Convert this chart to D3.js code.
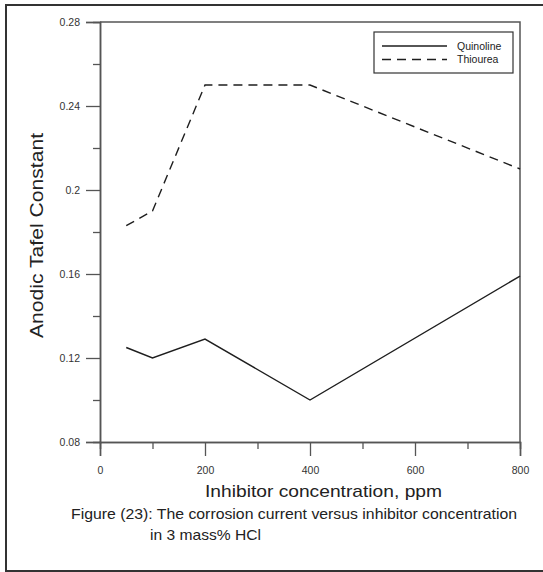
<!DOCTYPE html>
<html>
<head>
<meta charset="utf-8">
<script src="https://cdn.jsdelivr.net/npm/d3@7"></script>
<style>
	body { margin: 0; background: #fff; }
	svg { display: block; }
	text { font-family: "Liberation Sans", Arial, sans-serif; fill: #222; }
</style>
</head>
<body>
<svg id="chart" width="543" height="572"></svg>
<script>
// data
var concentration = [50, 100, 200, 400, 800];
var quinoline = [0.125, 0.12, 0.129, 0.10, 0.159];
var thiourea = [0.183, 0.19, 0.25, 0.25, 0.21];
var seriesNames = ['Quinoline', 'Thiourea'];

var xTicks = [0, 200, 400, 600, 800];
var xMinorTicks = [100, 300, 500, 700];
var yTicks = [0.08, 0.12, 0.16, 0.2, 0.24, 0.28];
var yTickLabels = ['0.08', '0.12', '0.16', '0.2', '0.24', '0.28'];
var yMinorTicks = [0.1, 0.14, 0.18, 0.22, 0.26];

var AXIS = '#555555';
var LINE = '#1e1e1e';

var plot = {left: 100, right: 520, top: 22, bottom: 442};

var svg = d3.select('#chart');

// outer frame of the figure
svg.append('rect')
	.attr('x', 6).attr('y', 5)
	.attr('width', 560).attr('height', 566)
	.style('fill', 'none')
	.style('stroke', '#333')
	.style('stroke-width', 2);

var x = d3.scaleLinear().domain([0, 800]).range([plot.left, plot.right]);
var y = d3.scaleLinear().domain([0.08, 0.28]).range([plot.bottom, plot.top]);

// top and right border of the plot
svg.append('path')
	.attr('d', 'M' + plot.left + ',' + plot.top + 'H' + plot.right + 'V' + plot.bottom)
	.style('fill', 'none')
	.style('stroke', AXIS)
	.style('stroke-width', 1.5);

function styleAxis(g) {
	g.select('.domain').style('stroke', AXIS).style('stroke-width', 1.5);
	g.selectAll('.tick line').style('stroke', AXIS).style('stroke-width', 1.3);
	g.selectAll('.tick text')
		.style('font-family', '"Liberation Sans", Arial, sans-serif')
		.style('font-size', '10.5px')
		.style('fill', '#333');
}

// minor ticks first so the major axis sits on top
svg.append('g')
	.attr('transform', 'translate(0,' + plot.bottom + ')')
	.call(d3.axisBottom(x).tickValues(xMinorTicks).tickSize(7).tickFormat(''))
	.call(styleAxis);
svg.append('g')
	.attr('transform', 'translate(' + plot.left + ',0)')
	.call(d3.axisLeft(y).tickValues(yMinorTicks).tickSize(7).tickFormat(''))
	.call(styleAxis);

svg.append('g')
	.attr('transform', 'translate(0,' + plot.bottom + ')')
	.call(d3.axisBottom(x).tickValues(xTicks).tickSize(14).tickPadding(11).tickFormat(d3.format('d')))
	.call(styleAxis);
svg.append('g')
	.attr('transform', 'translate(' + plot.left + ',0)')
	.call(d3.axisLeft(y).tickValues(yTicks).tickSize(14).tickPadding(6)
		.tickFormat(function(d, i) { return yTickLabels[i]; }))
	.call(styleAxis);

// series
var line = d3.line()
	.x(function(d) { return x(d[0]); })
	.y(function(d) { return y(d[1]); });

svg.append('path')
	.datum(d3.zip(concentration, quinoline))
	.attr('d', line)
	.style('fill', 'none')
	.style('stroke', LINE)
	.style('stroke-width', 1.4);

svg.append('path')
	.datum(d3.zip(concentration, thiourea))
	.attr('d', line)
	.style('fill', 'none')
	.style('stroke', LINE)
	.style('stroke-width', 1.4)
	.style('stroke-dasharray', '9,6');

// legend
var legend = svg.append('g');
legend.append('rect')
	.attr('x', 374).attr('y', 32)
	.attr('width', 139).attr('height', 41)
	.style('fill', '#fff')
	.style('stroke', '#333')
	.style('stroke-width', 1.2);

seriesNames.forEach(function(name, i) {
	var ly = 46 + i * 13.5;
	legend.append('line')
		.attr('x1', 382).attr('x2', 447)
		.attr('y1', ly).attr('y2', ly)
		.style('stroke', LINE)
		.style('stroke-width', 1.4)
		.style('stroke-dasharray', i === 1 ? '9,6' : null);
	legend.append('text')
		.attr('x', 457).attr('y', ly + 3.5)
		.style('font-size', '10.5px')
		.text(name);
});

// titles
function createText(x0, y0, size, len, text) {
	return svg.append('text')
		.attr('x', x0).attr('y', y0)
		.attr('textLength', len)
		.attr('lengthAdjust', 'spacingAndGlyphs')
		.style('font-size', size + 'px')
		.text(text);
}

createText(205, 497, 17, 237, 'Inhibitor concentration, ppm');
createText(71, 519, 14.5, 446, 'Figure (23): The corrosion current versus inhibitor concentration');
createText(150, 540, 14.5, 111, 'in 3 mass% HCl');

svg.append('text')
	.attr('transform', 'translate(43,338) rotate(-90)')
	.attr('textLength', 205)
	.attr('lengthAdjust', 'spacingAndGlyphs')
	.style('font-size', '18px')
	.text('Anodic Tafel Constant');
</script>
</body>
</html>
